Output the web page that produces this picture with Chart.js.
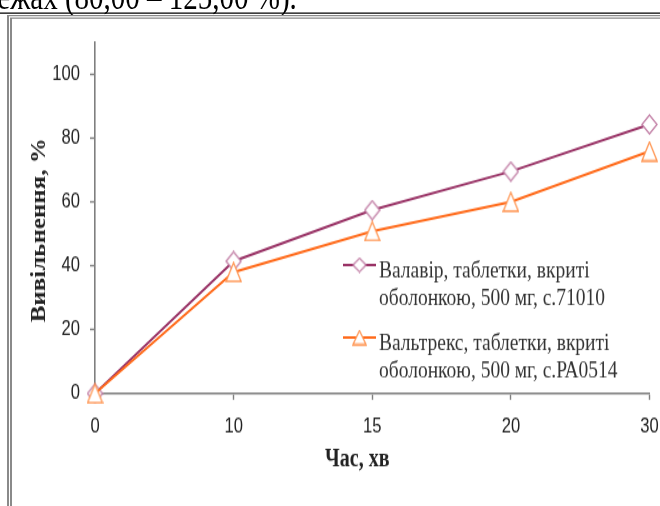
<!DOCTYPE html>
<html>
<head>
<meta charset="utf-8">
<script src="https://cdn.jsdelivr.net/npm/chart.js@4.4.1/dist/chart.umd.min.js"></script>
<style>
html, body { margin: 0; padding: 0; background: #fff; overflow: hidden; width: 660px; height: 506px; }
/* сторінку малюємо у "вузькому" масштабі і розтягуємо по вертикалі */
#arkush { position: absolute; left: 0; top: 0; width: 720px; height: 405px; transform: scaleY(1.25); transform-origin: 0 0; }
#abzac { position: absolute; left: -21px; top: -17px; font: 29px "Liberation Serif", serif; line-height: 28px; white-space: nowrap; color: #000; }
#liniya { position: absolute; left: 0; top: 9.6px; width: 720px; height: 1.6px; background: #000; }
#ramka { position: absolute; left: 7px; top: 12.4px; width: 760px; height: 440px; border-left: 5px double #8a8a8a; border-top: 3px double #8a8a8a; background: #fff; }
#grafik { position: absolute; left: 0; top: 0; }
</style>
</head>
<body>
<div id="arkush">
  <div id="abzac">межах (80,00 – 125,00 %).</div>
  <div id="liniya"></div>
  <div id="ramka"></div>
  <canvas id="grafik" width="720" height="405"></canvas>
</div>
<script>
// час відбору проб, хв
const chasy = ['0', '10', '15', '20', '30'];
// вивільнення, %
const valavir = [0, 41.4, 57.4, 69.5, 84.2];
const valtrex = [0, 38.0, 50.8, 60.0, 75.8];
const yPodilky = [0, 20, 40, 60, 80, 100];

const pidpysy = [
    ['Валавір, таблетки, вкриті', 'оболонкою, 500 мг, с.71010'],
    ['Вальтрекс, таблетки, вкриті', 'оболонкою, 500 мг, с.РА0514']
];

const kolirValavir = '#993366';
const kolirValtrex = '#ff6a1a';

// маркер: порожній ромб або трикутник
function znachok(forma, w, h, kolir) {
    const c = document.createElement('canvas');
    c.width = w + 2;
    c.height = h + 2;
    const g = c.getContext('2d');
    g.beginPath();
    if (forma === 'romb') {
        g.moveTo(c.width / 2, 1);
        g.lineTo(c.width - 1, c.height / 2);
        g.lineTo(c.width / 2, c.height - 1);
        g.lineTo(1, c.height / 2);
    } else {
        g.moveTo(c.width / 2, 1);
        g.lineTo(c.width - 1, c.height - 1);
        g.lineTo(1, c.height - 1);
    }
    g.closePath();
    g.fillStyle = '#fff';
    g.fill();
    g.lineWidth = 1.3;
    g.strokeStyle = kolir;
    g.stroke();
    return c;
}

const rombVelykyi = znachok('romb', 15, 15, '#c27fa6');
const trykutnykVelykyi = znachok('tryk', 15, 15, '#ff9450');
const rombMalyi = znachok('romb', 13, 11, '#c27fa6');
const trykutnykMalyi = znachok('tryk', 13, 11, '#ff9450');

// легенда всередині області графіка
const legenda = {
    id: 'legenda',
    afterDatasetsDraw(chart) {
        const ctx = chart.ctx;
        const area = chart.chartArea;
        const x0 = area.left + 248;
        const dovzhyna = 33;
        chart.data.datasets.forEach((ds, i) => {
            const y = area.top + 178.4 + i * 58;
            ctx.save();
            ctx.strokeStyle = ds.borderColor;
            ctx.lineWidth = 2;
            ctx.beginPath();
            ctx.moveTo(x0, y);
            ctx.lineTo(x0 + dovzhyna, y);
            ctx.stroke();
            const m = ds.legendMarker;
            ctx.drawImage(m, x0 + dovzhyna / 2 - m.width / 2, y - m.height / 2);
            ctx.fillStyle = '#333';
            ctx.font = '19.5px "Liberation Serif", serif';
            ctx.textBaseline = 'alphabetic';
            pidpysy[i].forEach((ryadok, k) => {
                ctx.fillText(ryadok, x0 + dovzhyna + 3, y + 10 + k * 22);
            });
            ctx.restore();
        });
    }
};

const osi = '#7f7f7f';
const shryftPodilok = { family: '"Liberation Sans", Arial, sans-serif', size: 16.6 };
const shryftNazvy = { family: '"Liberation Serif", "Times New Roman", serif', size: 20, weight: 'bold' };

new Chart(document.getElementById('grafik'), {
    type: 'line',
    data: {
        labels: chasy,
        datasets: [
            {
                label: pidpysy[0].join(' '),
                data: valavir,
                borderColor: kolirValavir,
                borderWidth: 2,
                pointStyle: rombVelykyi,
                legendMarker: rombMalyi,
                tension: 0,
                clip: false,
                order: 1
            },
            {
                label: pidpysy[1].join(' '),
                data: valtrex,
                borderColor: kolirValtrex,
                borderWidth: 2,
                pointStyle: trykutnykVelykyi,
                legendMarker: trykutnykMalyi,
                tension: 0,
                clip: false,
                order: 0
            }
        ]
    },
    options: {
        responsive: false,
        animation: false,
        events: [],
        layout: { padding: { top: 33.6, left: 0, right: 70.5, bottom: 0 } },
        plugins: {
            legend: { display: false },
            tooltip: { enabled: false }
        },
        scales: {
            x: {
                type: 'category',
                offset: false,
                border: { display: true, color: osi, width: 1.6 },
                grid: { drawOnChartArea: false, drawTicks: true, tickLength: 5, tickColor: osi, tickWidth: 1.4 },
                ticks: { color: '#222', font: shryftPodilok, padding: 11.6, maxRotation: 0, autoSkip: false },
                title: { display: true, text: 'Час, хв      ', color: '#222', font: shryftNazvy, padding: { top: 0, bottom: 25 } },
                afterFit(s) { s.height = 405 - 314.8; }
            },
            y: {
                min: 0,
                max: 110,
                border: { display: true, color: osi, width: 1.6 },
                grid: { drawOnChartArea: false, drawTicks: true, tickLength: 5, tickColor: osi, tickWidth: 1.4 },
                ticks: { color: '#222', font: shryftPodilok, padding: 10 },
                afterBuildTicks(s) { s.ticks = yPodilky.map(v => ({ value: v })); },
                title: { display: true, text: 'Вивільнення, %    ', color: '#222', font: shryftNazvy, padding: { top: 28, bottom: 0 } },
                afterFit(s) { s.width = 95; }
            }
        }
    },
    plugins: [legenda]
});
</script>
</body>
</html>
